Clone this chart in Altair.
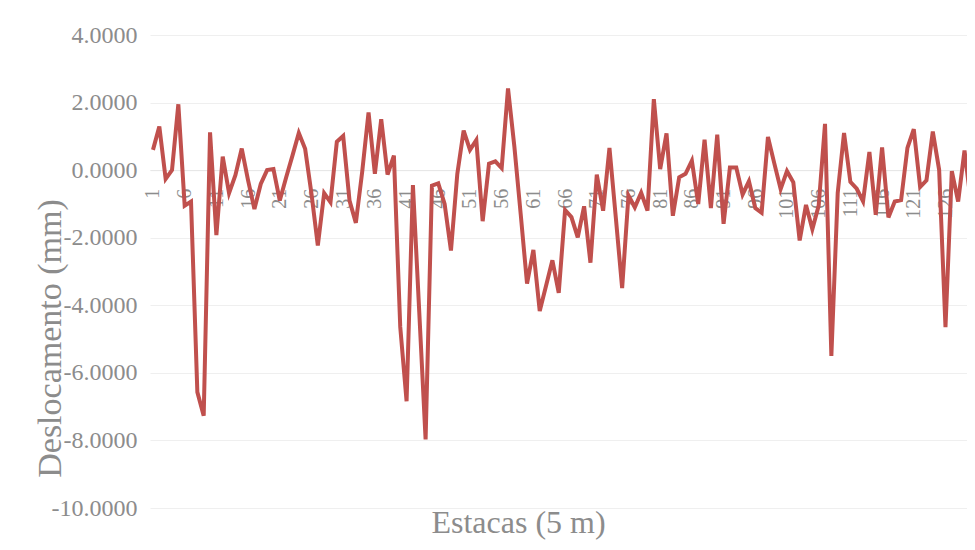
import altair as alt
import pandas as pd

estacas = list(range(1, 131))
deslocamento = [
    0.60, 1.29, -0.26, 0.00, 1.95, -1.05, -0.93, -6.57, -7.27, 1.12,
    -1.92, 0.40, -0.68, -0.15, 0.64, -0.30, -1.15, -0.41, 0.00, 0.03,
    -0.90, -0.22, 0.43, 1.10, 0.63, -0.70, -2.23, -0.68, -0.95, 0.84,
    1.01, -0.90, -1.56, -0.05, 1.71, -0.11, 1.51, -0.13, 0.43, -4.64,
    -6.84, -0.44, -4.20, -7.97, -0.46, -0.39, -1.00, -2.38, -0.11, 1.17,
    0.60, 0.89, -1.51, 0.19, 0.26, 0.06, 2.42, 0.70, -1.30, -3.36,
    -2.36, -4.17, -3.42, -2.67, -3.63, -1.18, -1.39, -1.99, -1.07, -2.74,
    -0.13, -1.20, 0.66, -1.40, -3.49, -0.75, -1.10, -0.67, -1.20, 2.10,
    0.03, 1.09, -1.35, -0.21, -0.11, 0.28, -1.00, 0.90, -1.12, 1.05,
    -1.59, 0.08, 0.08, -0.72, -0.33, -1.12, -1.26, 0.98, 0.20, -0.56,
    -0.03, -0.36, -2.08, -1.03, -1.75, -1.05, 1.37, -5.50, -0.68, 1.10,
    -0.35, -0.55, -0.92, 0.54, -1.32, 0.67, -1.40, -0.93, -0.89, 0.66,
    1.21, -0.50, -0.30, 1.14, 0.01, -4.65, -0.03, -0.93, 0.58, -0.95,
]
x_tick_values = list(range(1, 130, 5))
y_tick_values = [-10, -8, -6, -4, -2, 0, 2, 4]

df = pd.DataFrame({"Estaca": estacas, "Deslocamento": deslocamento})

W, H = 817, 473
STEP = 6.34
x_lo = 0.53
x_hi = x_lo + W / STEP
y_min, y_max = -10, 4
zero_y = H * (y_max - 0) / (y_max - y_min)
zero_offset = zero_y - H  # move x axis up to y=0

FONT = "Liberation Serif"
GRAY = "#8c8c8c"

chart = (
    alt.Chart(df)
    .mark_line(color="#C0504D", strokeWidth=4, strokeJoin="miter")
    .encode(
        x=alt.X(
            "Estaca:Q",
            scale=alt.Scale(domain=[x_lo, x_hi], nice=False, zero=False),
            axis=alt.Axis(
                title="Estacas (5 m)",
                values=x_tick_values,
                format="d",
                labelAngle=-90,
                labelAlign="right",
                labelBaseline="middle",
                labelPadding=18,
                ticks=False,
                domain=True,
                domainColor="#e6e6e6",
                grid=False,
                offset=zero_offset,
                labelFont=FONT,
                labelFontSize=20,
                labelColor=GRAY,
                titleFont=FONT,
                titleFontSize=32,
                titleFontWeight="normal",
                titleColor=GRAY,
                titleX=368,
                titleY=362,
                titleBaseline="alphabetic",
                labelOverlap=False,
            ),
        ),
        y=alt.Y(
            "Deslocamento:Q",
            scale=alt.Scale(domain=[y_min, y_max], nice=False),
            axis=alt.Axis(
                title="Deslocamento (mm)",
                values=y_tick_values,
                labelExpr="replace(format(datum.value, '.4f'), '\u2212', '-')",
                ticks=False,
                domain=False,
                grid=True,
                gridColor="#efefef",
                gridWidth=1,
                labelPadding=13,
                labelFont=FONT,
                labelFontSize=24,
                labelColor=GRAY,
                titleFont=FONT,
                titleFontSize=34,
                titleFontWeight="normal",
                titleColor=GRAY,
                titleX=-90,
                titleY=303,
                titleBaseline="alphabetic",
                labelOverlap=False,
            ),
        ),
    )
    .properties(
        width=W,
        height=H,
        autosize=alt.AutoSizeParams(type="none"),
        padding={"left": 142, "top": 27, "right": 0, "bottom": 34},
        background="white",
    )
    .configure_view(stroke=None)
)

chart.save("out.html", embed_options={"renderer": "svg", "actions": False})
